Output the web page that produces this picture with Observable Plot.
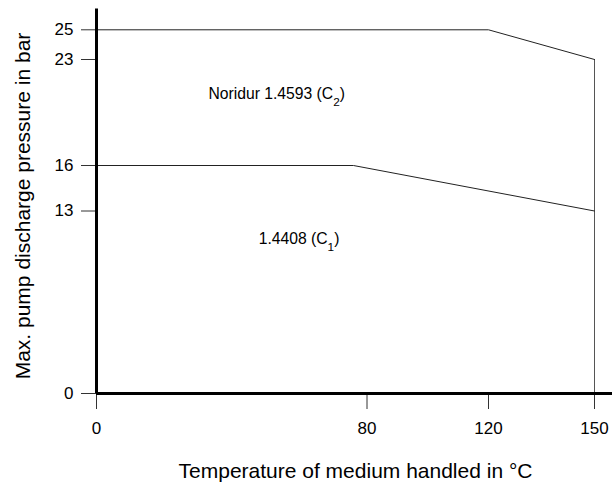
<!DOCTYPE html>
<html>
<head>
<meta charset="utf-8">
<script src="https://cdn.jsdelivr.net/npm/d3@7"></script>
<script src="https://cdn.jsdelivr.net/npm/@observablehq/plot@0.6"></script>
<style>
  html, body { margin: 0; padding: 0; background: #fff; }
  svg { font-family: "Liberation Sans", Arial, Helvetica, sans-serif; }
</style>
</head>
<body>
<div id="chart"></div>
<script>
// Data
const c2Temp = [0, 120, 150];
const c2Pressure = [25, 25, 23];
const c1Temp = [0, 76, 150];
const c1Pressure = [16, 16, 13];
const xTicks = [0, 80, 120, 150];
const yTicks = [0, 13, 16, 23, 25];
const curveLabels = ["Noridur 1.4593 (C₂)", "1.4408 (C₁)"];
const labelTemp = [53.3, 59.9];
const labelPressure = [20.75, 11.0];
const xLabel = "Temperature of medium handled in °C";
const yLabel = "Max. pump discharge pressure in bar";

const c2 = c2Temp.map((t, i) => ({t, p: c2Pressure[i]}));
const c1 = c1Temp.map((t, i) => ({t, p: c1Pressure[i]}));
const labels = curveLabels.map((s, i) => ({s, t: labelTemp[i], p: labelPressure[i]}));

const plot = Plot.plot({
  width: 612,
  height: 487,
  marginLeft: 96,
  marginRight: 18,
  marginTop: 8,
  marginBottom: 94,
  style: {fontFamily: '"Liberation Sans", Arial, Helvetica, sans-serif', background: "#fff"},
  // the original drawing is schematic: tick spacing is not uniform (piecewise linear scales)
  x: {type: "linear", domain: xTicks, range: [96, 366.5, 488, 594]},
  y: {type: "linear", domain: yTicks, range: [393, 210.5, 165, 59, 29.3]},
  marks: [
    Plot.axisY({ticks: yTicks, tickSize: 15, tickPadding: 8, fontSize: 17, label: null, stroke: "#333", color: "#000"}),
    Plot.axisX({ticks: xTicks, tickSize: 16, tickPadding: 12, fontSize: 17, label: null, stroke: "#333", color: "#000"}),
    Plot.ruleX([150], {y1: 0, y2: 23, stroke: "#555", strokeWidth: 1}),
    Plot.line(c2, {x: "t", y: "p", stroke: "#222", strokeWidth: 1}),
    Plot.line(c1, {x: "t", y: "p", stroke: "#222", strokeWidth: 1}),
    Plot.ruleX([0], {y1: 0, y2: 26.4, stroke: "#000", strokeWidth: 3}),
    Plot.ruleY([0], {x1: 0, x2: 155.2, stroke: "#000", strokeWidth: 3}),
    Plot.text(labels, {x: "t", y: "p", text: "s", fontSize: 15.7, fill: "#000", textAnchor: "middle"}),
    Plot.text([xLabel], {frameAnchor: "bottom", textAnchor: "middle", dy: 78, dx: 10, fontSize: 21, fill: "#000", lineAnchor: "middle"}),
    Plot.text([yLabel], {frameAnchor: "left", textAnchor: "middle", rotate: -90, dx: -73, dy: 5, fontSize: 21, fill: "#000", lineAnchor: "middle"})
  ]
});

// Render subscript characters as real subscripts
const subMap = {"₁": "1", "₂": "2"};
d3.select(plot).selectAll("text").each(function() {
  const el = d3.select(this);
  const txt = el.text();
  if (!/[₁₂]/.test(txt)) return;
  el.text(null);
  const parts = txt.split(/([₁₂])/);
  for (const part of parts) {
    if (!part) continue;
    if (subMap[part]) {
      el.append("tspan").attr("baseline-shift", "sub").attr("font-size", "75%").text(subMap[part]);
    } else {
      el.append("tspan").text(part);
    }
  }
});

document.getElementById("chart").appendChild(plot);
</script>
</body>
</html>
